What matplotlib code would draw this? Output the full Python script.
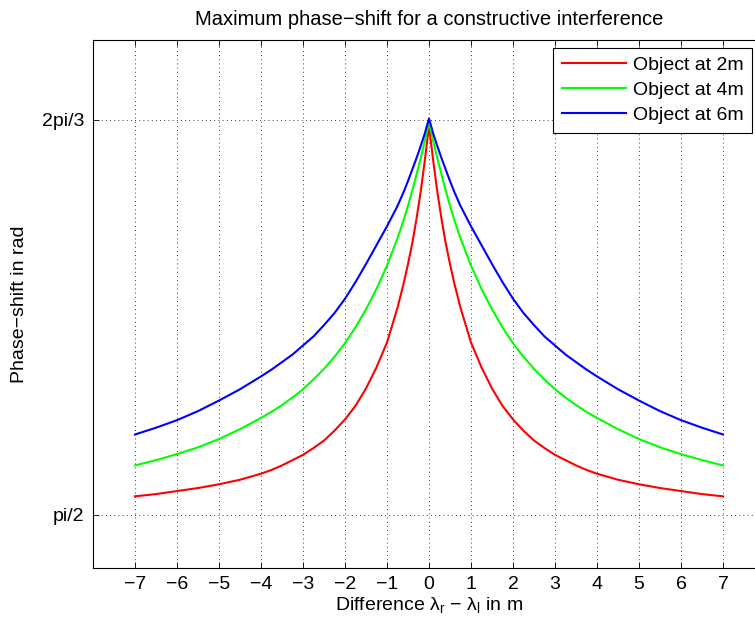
import numpy as np
import matplotlib
matplotlib.use("Agg")
import matplotlib.pyplot as plt

plt.rcParams['font.family'] = ['Liberation Sans', 'DejaVu Sans']

# right half of the x positions (difference lambda_r - lambda_l in m); curves are symmetric
x_right = [0, 0.1, 0.2, 0.3, 0.4, 0.5, 0.6, 0.75, 1, 1.25, 1.5, 1.75, 2, 2.25, 2.5, 2.75,
           3, 3.25, 3.5, 3.75, 4, 4.5, 5, 5.5, 6, 6.5, 7]

# phase-shift in rad
red_right = [2.086, 2.040, 1.998, 1.962, 1.930, 1.903, 1.878, 1.845, 1.799, 1.766, 1.738,
             1.715, 1.697, 1.682, 1.669, 1.659, 1.650, 1.643, 1.636, 1.630, 1.625, 1.617,
             1.611, 1.606, 1.602, 1.598, 1.595]
green_right = [2.091, 2.066, 2.043, 2.021, 2.000, 1.980, 1.962, 1.937, 1.901, 1.870, 1.843,
               1.819, 1.798, 1.780, 1.764, 1.750, 1.737, 1.726, 1.716, 1.707, 1.699, 1.684,
               1.671, 1.660, 1.651, 1.643, 1.636]
blue_right = [2.096, 2.076, 2.059, 2.043, 2.028, 2.013, 1.999, 1.980, 1.953, 1.928, 1.903,
              1.879, 1.857, 1.838, 1.822, 1.807, 1.795, 1.783, 1.773, 1.763, 1.754, 1.737,
              1.722, 1.708, 1.696, 1.686, 1.677]

diff_x = [-v for v in x_right[:0:-1]] + x_right
red_obj = red_right[:0:-1] + red_right
green_obj = green_right[:0:-1] + green_right
blue_obj = blue_right[:0:-1] + blue_right

fig = plt.figure(figsize=(7.55, 6.29), dpi=100)
ax = fig.add_axes([93 / 755, 61 / 629, 672 / 755, 528 / 629])

ax.plot(diff_x, red_obj, color='#ff0000', lw=1.5, label='Object at 2m')
ax.plot(diff_x, green_obj, color='#00ff00', lw=1.5, label='Object at 4m')
ax.plot(diff_x, blue_obj, color='#0000ff', lw=1.5, label='Object at 6m')

ax.set_xlim(-8, 8)
ax.set_ylim(1.5, 2.2)
ax.set_xticks(range(-7, 8))
ax.set_yticks([np.pi / 2, 2 * np.pi / 3])
ax.set_yticklabels(['pi/2', '2pi/3'])
ax.tick_params(direction='in', length=4, width=0.6, labelsize=14, top=True, right=True, pad=6)
ax.grid(True, color='black', linestyle=(0, (1, 4)), linewidth=0.6)
for s in ax.spines.values():
    s.set_linewidth(0.8)

ax.set_title('Maximum phase\u2212shift for a constructive interference', fontsize=14.5, pad=11)
ax.set_xlabel('Difference \u03bb$_\\mathregular{r}$ \u2212 \u03bb$_\\mathregular{l}$ in m', fontsize=14, labelpad=2)
ax.set_ylabel('Phase\u2212shift in rad', fontsize=14, labelpad=10)

leg = ax.legend(loc='upper right', bbox_to_anchor=(0.981, 0.985), borderaxespad=0, fontsize=14,
                handlelength=3.3, handletextpad=0.35, labelspacing=0.38, borderpad=0.45,
                fancybox=False, framealpha=1, edgecolor='black')
leg.get_frame().set_linewidth(0.8)

fig.savefig('out.png', dpi=100)
